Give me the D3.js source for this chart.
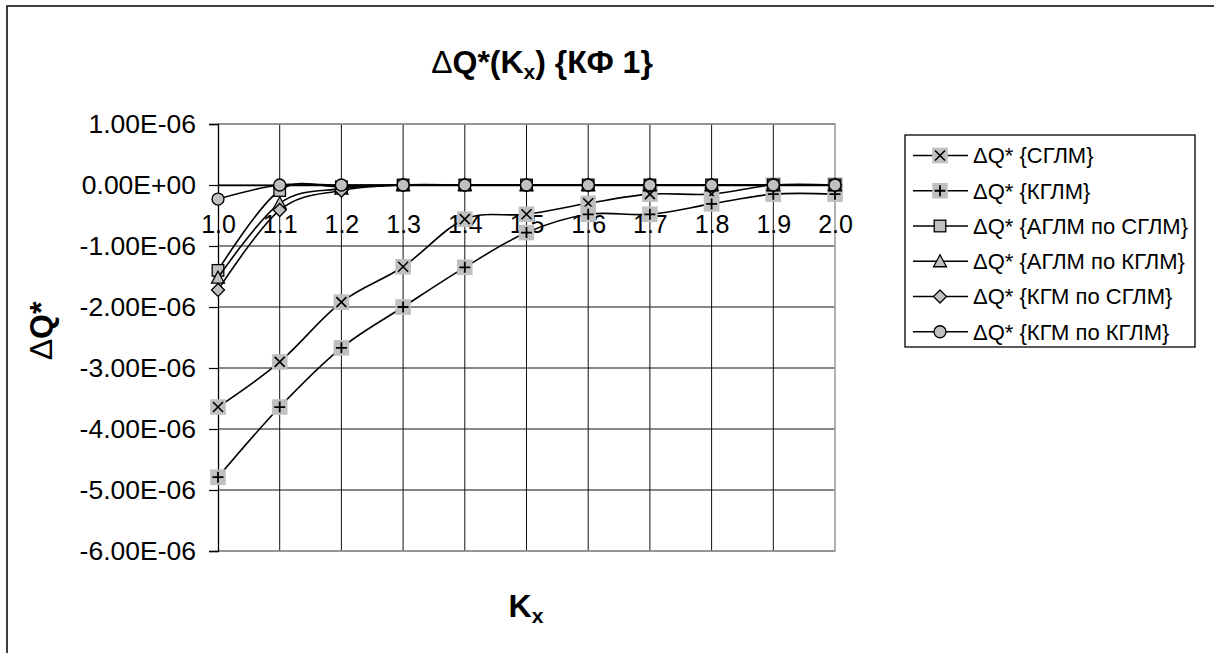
<!DOCTYPE html>
<html>
<head>
<meta charset="utf-8">
<script src="https://cdn.jsdelivr.net/npm/d3@7/dist/d3.min.js"></script>
<style>
  html, body { margin: 0; padding: 0; background: #fff; }
  svg { display: block; }
  text { font-family: "Liberation Sans", Arial, sans-serif; fill: #000; }
</style>
</head>
<body>
<svg id="chart" width="1214" height="653"></svg>
<script>
// ---- data ----
const categories = ["1.0","1.1","1.2","1.3","1.4","1.5","1.6","1.7","1.8","1.9","2.0"];
const seriesNames = [
  "ΔQ* {СГЛМ}",
  "ΔQ* {КГЛМ}",
  "ΔQ* {АГЛМ по СГЛМ}",
  "ΔQ* {АГЛМ по КГЛМ}",
  "ΔQ* {КГМ по СГЛМ}",
  "ΔQ* {КГМ по КГЛМ}"
];
const markerTypes = ["cross", "plus", "square", "triangle", "diamond", "circle"];
const valsSGLM      = [-3.64e-6, -2.90e-6, -1.92e-6, -1.34e-6, -0.56e-6, -0.48e-6, -0.30e-6, -0.15e-6, -0.15e-6, 0, 0];
const valsKGLM      = [-4.79e-6, -3.64e-6, -2.67e-6, -2.00e-6, -1.35e-6, -0.78e-6, -0.48e-6, -0.48e-6, -0.31e-6, -0.15e-6, -0.15e-6];
const valsAGLMbySG  = [-1.40e-6, -0.09e-6, -0.03e-6, 0, 0, 0, 0, 0, 0, 0, 0];
const valsAGLMbyKG  = [-1.52e-6, -0.30e-6, -0.06e-6, 0, 0, 0, 0, 0, 0, 0, 0];
const valsKGMbySG   = [-1.72e-6, -0.41e-6, -0.09e-6, 0, 0, 0, 0, 0, 0, 0, 0];
const valsKGMbyKG   = [-0.23e-6, 0, 0, 0, 0, 0, 0, 0, 0, 0, 0];
const yTickValues   = [1e-6, 0, -1e-6, -2e-6, -3e-6, -4e-6, -5e-6, -6e-6];

const allSeries = [valsSGLM, valsKGLM, valsAGLMbySG, valsAGLMbyKG, valsKGMbySG, valsKGMbyKG];

// ---- layout ----
const svg = d3.select("#chart");
const plot = { left: 218, right: 835, top: 124, bottom: 551 };
const GRAY = "#c0c0c0";

const x = d3.scalePoint().domain(categories).range([plot.left, plot.right]);
const y = d3.scaleLinear().domain([-6e-6, 1e-6]).range([plot.bottom, plot.top]);

function fmtExp(v) {
  if (v === 0) return "0.00E+00";
  const s = v.toExponential(2).toUpperCase();
  const m = s.match(/^(-?[\d.]+)E([+-])(\d+)$/);
  return m[1] + "E" + m[2] + m[3].padStart(2, "0");
}

// outer border
svg.append("rect").attr("x", 7).attr("y", 6).attr("width", 1230).attr("height", 680)
  .attr("fill", "none").attr("stroke", "#000").attr("stroke-width", 1.5);

// horizontal gridlines
svg.append("g").selectAll("line").data(yTickValues).join("line")
  .attr("x1", plot.left).attr("x2", plot.right)
  .attr("y1", d => y(d)).attr("y2", d => y(d))
  .attr("stroke", "#111").attr("stroke-width", 1);

// vertical gridlines
svg.append("g").selectAll("line").data(categories.slice(1, -1)).join("line")
  .attr("x1", d => x(d)).attr("x2", d => x(d))
  .attr("y1", plot.top).attr("y2", plot.bottom)
  .attr("stroke", "#111").attr("stroke-width", 1);

// plot area border
svg.append("path")
  .attr("d", `M${plot.left},${plot.top}H${plot.right}V${plot.bottom}H${plot.left}`)
  .attr("fill", "none").attr("stroke", "#999").attr("stroke-width", 1.5);

// y axis
const yAxis = d3.axisLeft(y).tickValues(yTickValues).tickFormat(fmtExp).tickSize(9).tickPadding(13);
const gy = svg.append("g").attr("transform", `translate(${plot.left},0)`).call(yAxis);
gy.select(".domain").attr("stroke", "#000").attr("stroke-width", 1.3);
gy.selectAll(".tick line").attr("stroke", "#000").attr("stroke-width", 1.2);
gy.selectAll(".tick text").attr("font-size", 26.5).attr("font-family", "Liberation Sans, Arial, sans-serif").attr("fill", "#000");

// x axis (at zero)
const xAxis = d3.axisBottom(x).tickSize(0);
const gx = svg.append("g").attr("transform", `translate(0,${y(0)})`).call(xAxis);
gx.select(".domain").attr("stroke", "#000").attr("stroke-width", 1.3);
gx.selectAll(".tick text").attr("font-size", 25).attr("y", 48).attr("dy", 0)
  .attr("font-family", "Liberation Sans, Arial, sans-serif").attr("fill", "#000");

// markers
function drawMarker(g, type, cx, cy) {
  const m = g.append("g").attr("transform", `translate(${cx},${cy})`);
  const sw = 1.3;
  if (type === "cross" || type === "plus") {
    m.append("rect").attr("x", -7.8).attr("y", -7.8).attr("width", 15.6).attr("height", 15.6).attr("fill", GRAY);
    if (type === "cross") {
      m.append("path").attr("d", "M-5,-5L5,5M-5,5L5,-5").attr("stroke", "#000").attr("stroke-width", 1.6);
    } else {
      m.append("path").attr("d", "M-5.5,0H5.5M0,-5.5V5.5").attr("stroke", "#000").attr("stroke-width", 1.8);
    }
  } else if (type === "square") {
    m.append("rect").attr("x", -5.8).attr("y", -5.8).attr("width", 11.6).attr("height", 11.6)
      .attr("fill", GRAY).attr("stroke", "#000").attr("stroke-width", sw);
  } else if (type === "triangle") {
    m.append("path").attr("d", "M0,-6.5L6.5,5.5L-6.5,5.5Z")
      .attr("fill", GRAY).attr("stroke", "#000").attr("stroke-width", sw);
  } else if (type === "diamond") {
    m.append("path").attr("d", "M0,-6.5L6.5,0L0,6.5L-6.5,0Z")
      .attr("fill", GRAY).attr("stroke", "#000").attr("stroke-width", sw);
  } else if (type === "circle") {
    m.append("circle").attr("r", 6)
      .attr("fill", GRAY).attr("stroke", "#000").attr("stroke-width", sw);
  }
}

// series
const line = d3.line()
  .x((d, i) => x(categories[i]))
  .y(d => y(d))
  .curve(d3.curveCatmullRom.alpha(0));

const gs = svg.append("g");
allSeries.forEach((vals, si) => {
  const g = gs.append("g");
  g.append("path").attr("d", line(vals)).attr("fill", "none")
    .attr("stroke", "#000").attr("stroke-width", 1.6);
  vals.forEach((v, i) => drawMarker(g, markerTypes[si], x(categories[i]), y(v)));
});

// title
const title = svg.append("text").attr("x", 542).attr("y", 73).attr("text-anchor", "middle")
  .attr("font-size", 32).attr("font-weight", "bold");
title.append("tspan").attr("font-weight", "normal").text("Δ");
title.append("tspan").text("Q*(K");
title.append("tspan").attr("font-size", 21).attr("dy", 6).text("x");
title.append("tspan").attr("dy", -6).text(") {КФ 1}");

// x-axis title
const xt = svg.append("text").attr("x", 526).attr("y", 617).attr("text-anchor", "middle")
  .attr("font-size", 32).attr("font-weight", "bold");
xt.append("tspan").text("K");
xt.append("tspan").attr("font-size", 21).attr("dy", 6).text("x");

// y-axis title
const ytl = svg.append("text").attr("transform", "translate(52,331) rotate(-90)")
  .attr("text-anchor", "middle").attr("font-size", 32).attr("font-weight", "bold");
ytl.append("tspan").attr("font-weight", "normal").text("Δ");
ytl.append("tspan").text("Q*");

// legend
const lg = svg.append("g");
lg.append("rect").attr("x", 905).attr("y", 135).attr("width", 290).attr("height", 212)
  .attr("fill", "#fff").attr("stroke", "#000").attr("stroke-width", 1.3);
seriesNames.forEach((name, i) => {
  const cy = 155.5 + i * 35.25;
  lg.append("line").attr("x1", 913).attr("x2", 968).attr("y1", cy).attr("y2", cy)
    .attr("stroke", "#000").attr("stroke-width", 1.5);
  drawMarker(lg, markerTypes[i], 940, cy);
  lg.append("text").attr("x", 973).attr("y", cy).attr("dy", "0.36em")
    .attr("font-size", 22).text(name);
});
</script>
</body>
</html>
